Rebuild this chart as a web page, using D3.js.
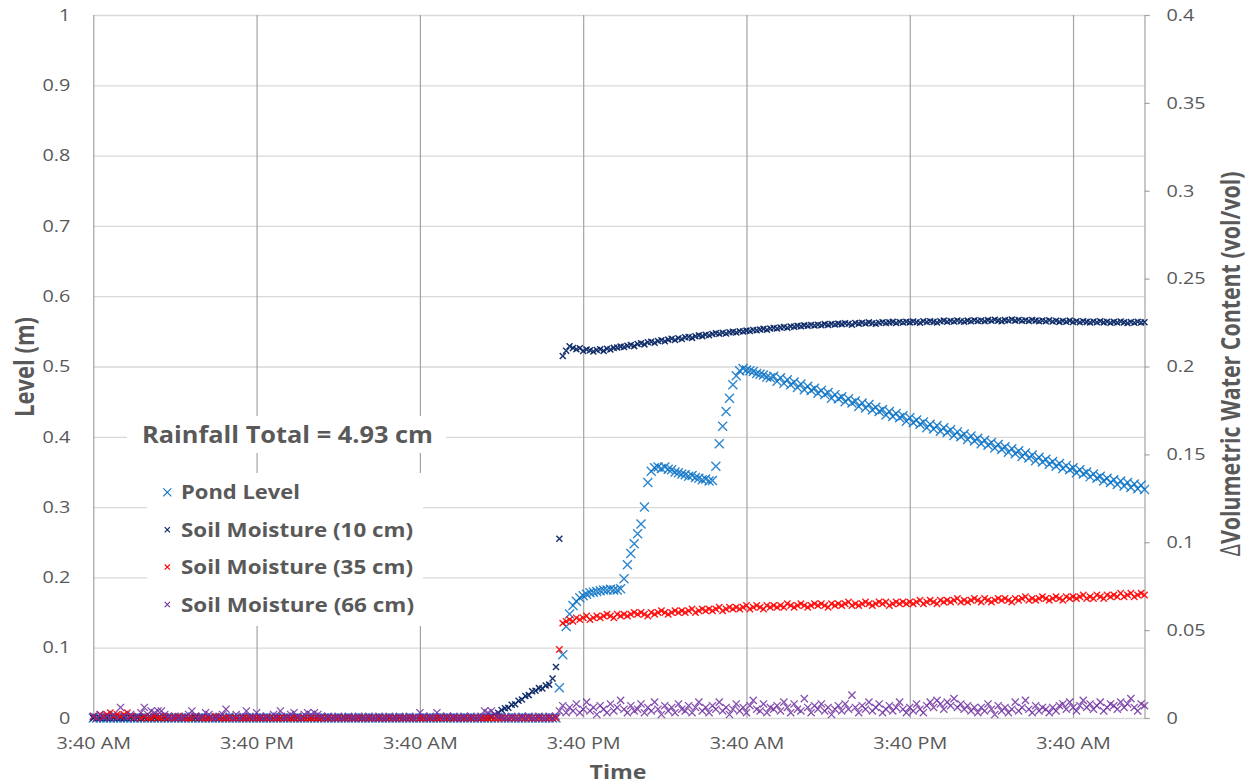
<!DOCTYPE html>
<html>
<head>
<meta charset="utf-8">
<title>Pond level and soil moisture</title>
<script src="https://cdn.jsdelivr.net/npm/d3@7"></script>
<style>
  html, body { margin: 0; padding: 0; background: #fff; }
  svg { display: block; font-family: "Open Sans", "DejaVu Sans", sans-serif; }
</style>
</head>
<body>
<svg id="chart" width="1250" height="784"></svg>
<script>
// Logger readings, one every 15 minutes, first reading at 3:40 AM.
const stepMinutes = 15;
const spanHours = 77.25;

// Pond level (m), left axis
const pondLevel = [
  0,0,0,0,0,0,0,0,0,0,0,0,0,0,0,0,0,0,0,0,
  0,0,0,0,0,0,0,0,0,0,0,0,0,0,0,0,0,0,0,0,
  0,0,0,0,0,0,0,0,0,0,0,0,0,0,0,0,0,0,0,0,
  0,0,0,0,0,0,0,0,0,0,0,0,0,0,0,0,0,0,0,0,
  0,0,0,0,0,0,0,0,0,0,0,0,0,0,0,0,0,0,0,0,
  0,0,0,0,0,0,0,0,0,0,0,0,0,0,0,0,0,0,0,0,
  0,0,0,0,0,0,0,0,0,0,0,0,0,0,0,0,0,0.043,0.090,0.130,
  0.148,0.160,0.166,0.171,0.174,0.176,0.178,0.179,0.180,0.181,0.182,0.182,0.183,0.182,0.182,0.184,0.198,0.218,0.234,0.248,
  0.262,0.276,0.300,0.335,0.351,0.356,0.357,0.355,0.357,0.354,0.353,0.350,0.349,0.347,0.346,0.344,0.345,0.342,0.341,0.339,
  0.340,0.337,0.338,0.358,0.390,0.415,0.436,0.455,0.474,0.487,0.494,0.497,0.495,0.494,0.493,0.490,0.489,0.488,0.485,0.484,
  0.486,0.479,0.484,0.476,0.481,0.474,0.478,0.470,0.475,0.467,0.472,0.466,0.469,0.462,0.466,0.460,0.463,0.455,0.460,0.454,
  0.457,0.450,0.454,0.448,0.451,0.443,0.448,0.441,0.446,0.438,0.442,0.436,0.439,0.431,0.436,0.429,0.433,0.427,0.430,0.422,
  0.427,0.420,0.424,0.418,0.421,0.413,0.418,0.411,0.416,0.408,0.413,0.406,0.410,0.402,0.407,0.400,0.404,0.396,0.401,0.394,
  0.398,0.390,0.395,0.388,0.392,0.384,0.389,0.382,0.386,0.378,0.383,0.376,0.380,0.372,0.377,0.370,0.374,0.366,0.371,0.364,
  0.368,0.361,0.365,0.358,0.362,0.355,0.359,0.353,0.356,0.349,0.353,0.347,0.350,0.343,0.347,0.341,0.344,0.337,0.341,0.335,
  0.339,0.332,0.337,0.330,0.335,0.328,0.333,0.326,0.331,0.325
];

// Change in volumetric water content (vol/vol), right axis
const soil10 = [
  0,0,0,0,0,0,0,0,0,0,0,0,0,0,0,0,0,0,0,0,
  0,0,0,0,0,0,0,0,0,0,0,0,0,0,0,0,0,0,0,0,
  0,0,0,0,0,0,0,0,0,0,0,0,0,0,0,0,0,0,0,0,
  0,0,0,0,0,0,0,0,0,0,0,0,0,0,0,0,0,0,0,0,
  0,0,0,0,0,0,0,0,0,0,0,0,0,0,0,0,0,0,0,0,
  0,0,0,0,0,0,0,0,0,0,0,0,0,0,0,0,0,0.001,0.002,0.003,
  0.0045,0.0055,0.0058,0.0075,0.0078,0.0098,0.0105,0.0125,0.013,0.0152,0.0155,0.017,0.0168,0.0185,0.019,0.0225,0.029,0.102,0.206,0.209,
  0.2115,0.2105,0.2098,0.2104,0.2088,0.2097,0.2092,0.2085,0.2094,0.2098,0.2089,0.2101,0.2097,0.2106,0.2108,0.2113,0.2111,0.2118,0.2122,0.2116,
  0.2128,0.2132,0.2126,0.2138,0.2141,0.2135,0.2145,0.2149,0.2144,0.2153,0.2158,0.2151,0.2161,0.2157,0.2166,0.2168,0.2163,0.2172,0.2177,0.2173,
  0.2181,0.2178,0.2185,0.2189,0.2186,0.2192,0.2188,0.2195,0.2197,0.2193,0.2201,0.2199,0.2204,0.2202,0.2208,0.2206,0.2211,0.2214,0.2209,0.2216,
  0.2219,0.2216,0.2222,0.2225,0.2221,0.2228,0.2226,0.2231,0.2229,0.2234,0.2232,0.2236,0.2233,0.2238,0.2235,0.2241,0.2237,0.2242,0.2239,0.2244,
  0.2241,0.2246,0.2243,0.2238,0.2247,0.2244,0.2249,0.2245,0.2251,0.2246,0.2243,0.2249,0.2252,0.2247,0.2251,0.2254,0.2248,0.2253,0.2250,0.2255,
  0.2251,0.2256,0.2252,0.2249,0.2257,0.2253,0.2258,0.2254,0.2250,0.2257,0.2261,0.2255,0.2259,0.2256,0.2262,0.2258,0.2255,0.2261,0.2258,0.2263,
  0.2259,0.2262,0.2257,0.2264,0.2260,0.2266,0.2261,0.2258,0.2264,0.2262,0.2267,0.2261,0.2265,0.2260,0.2263,0.2259,0.2265,0.2261,0.2257,0.2262,
  0.2258,0.2263,0.2256,0.2260,0.2254,0.2259,0.2255,0.2261,0.2253,0.2257,0.2252,0.2258,0.2254,0.2250,0.2256,0.2252,0.2257,0.2251,0.2255,0.2249,
  0.2254,0.2250,0.2256,0.2251,0.2247,0.2253,0.2249,0.2255,0.2250,0.2252
];

const soil35 = [
  0.001,0,0.002,0.001,0.002,0.003,0.001,0.002,0.001,0.002,0.003,0.001,0,0.001,0,0.001,0,0,0.001,0,
  0,0.001,0,0,0,0.001,0,0,0,0,0.001,0,0,0,0,0,0.001,0,0,0,
  0,0,0,0,0,0,0,0,0,0,0,0,0,0,0,0,0,0,0,0,
  0,0,0,0,0,0,0,0,0,0,0,0,0,0,0,0,0,0,0,0,
  0,0,0,0,0,0,0,0,0,0,0,0,0,0,0,0,0,0,0,0,
  0,0,0,0,0,0,0,0,0,0,0,0,0,0,0,0,0,0,0,0,
  0,0,0,0,0,0,0,0,0,0,0,0,0,0,0,0,0,0.039,0.054,0.055,
  0.056,0.055,0.057,0.056,0.057,0.058,0.056,0.057,0.058,0.057,0.058,0.059,0.058,0.057,0.059,0.058,0.059,0.058,0.059,0.060,
  0.059,0.060,0.059,0.058,0.060,0.059,0.060,0.061,0.060,0.059,0.060,0.061,0.060,0.061,0.060,0.061,0.062,0.060,0.061,0.062,
  0.061,0.062,0.061,0.062,0.063,0.061,0.062,0.063,0.062,0.063,0.062,0.063,0.064,0.062,0.063,0.064,0.063,0.062,0.064,0.063,
  0.064,0.063,0.064,0.063,0.065,0.064,0.063,0.064,0.065,0.064,0.063,0.064,0.065,0.064,0.065,0.064,0.063,0.065,0.064,0.065,
  0.064,0.065,0.066,0.064,0.065,0.064,0.065,0.066,0.065,0.064,0.065,0.066,0.065,0.066,0.064,0.065,0.066,0.065,0.066,0.065,
  0.066,0.065,0.066,0.067,0.065,0.066,0.067,0.066,0.065,0.067,0.066,0.067,0.066,0.067,0.068,0.066,0.067,0.066,0.067,0.068,
  0.067,0.066,0.068,0.067,0.066,0.067,0.068,0.067,0.068,0.067,0.066,0.068,0.067,0.068,0.069,0.067,0.068,0.067,0.068,0.069,
  0.068,0.067,0.068,0.069,0.068,0.067,0.069,0.068,0.069,0.068,0.069,0.070,0.068,0.069,0.068,0.070,0.069,0.068,0.070,0.069,
  0.070,0.069,0.071,0.069,0.070,0.071,0.069,0.070,0.071,0.070
];

const soil66 = [
  0.001,0,0.002,0,0.001,0,0.002,0,0.006,0.001,0,0.002,0,0.001,0.003,0.006,0.002,0.004,0.003,0.004,
  0.004,0.002,0.001,0,0.001,0,0,0.001,0.002,0.004,0.001,0,0.001,0.003,0.002,0,0,0.001,0.002,0.005,
  0.001,0,0.002,0,0.001,0.004,0.001,0,0.003,0.001,0,0.001,0,0.002,0.001,0.004,0,0.001,0.002,0.003,
  0.001,0,0.002,0.003,0.002,0.003,0.002,0.001,0,0.001,0,0,0.001,0,0,0.001,0,0,0.001,0,
  0,0.001,0,0,0.001,0,0,0.001,0,0,0.001,0,0,0.001,0,0,0.003,0.001,0,0.001,
  0,0.003,0.001,0,0.001,0,0.001,0,0,0.001,0,0.001,0,0,0.001,0.004,0.003,0.004,0.002,0.001,
  0.001,0,0,0.001,0,0,0.001,0,0.001,0,0,0.001,0,0,0.001,0,0.001,0.004,0.007,0.003,
  0.006,0.004,0.008,0.003,0.005,0.009,0.004,0.006,0.002,0.007,0.005,0.003,0.008,0.004,0.006,0.010,0.005,0.003,0.007,0.004,
  0.005,0.008,0.003,0.006,0.004,0.009,0.005,0.002,0.007,0.004,0.006,0.003,0.008,0.005,0.004,0.007,0.003,0.006,0.009,0.004,
  0.006,0.003,0.007,0.005,0.009,0.004,0.006,0.002,0.005,0.008,0.004,0.006,0.003,0.007,0.010,0.005,0.004,0.008,0.003,0.006,
  0.005,0.007,0.004,0.009,0.006,0.003,0.008,0.005,0.004,0.011,0.006,0.003,0.007,0.005,0.008,0.004,0.006,0.002,0.005,0.007,
  0.004,0.008,0.005,0.013,0.006,0.003,0.007,0.005,0.009,0.004,0.006,0.008,0.003,0.005,0.007,0.004,0.006,0.009,0.005,0.003,
  0.006,0.004,0.008,0.005,0.003,0.007,0.009,0.006,0.010,0.008,0.005,0.009,0.007,0.011,0.006,0.008,0.005,0.007,0.004,0.006,
  0.003,0.006,0.004,0.008,0.005,0.002,0.007,0.004,0.006,0.003,0.005,0.009,0.004,0.006,0.010,0.005,0.003,0.007,0.004,0.006,
  0.005,0.003,0.006,0.004,0.007,0.008,0.005,0.009,0.006,0.004,0.007,0.010,0.006,0.008,0.005,0.007,0.009,0.004,0.006,0.008,
  0.007,0.005,0.009,0.006,0.008,0.011,0.006,0.004,0.008,0.007
];

const seriesNames = ["Pond Level", "Soil Moisture (10 cm)", "Soil Moisture (35 cm)", "Soil Moisture (66 cm)"];
const leftTicks = [0, 0.1, 0.2, 0.3, 0.4, 0.5, 0.6, 0.7, 0.8, 0.9, 1];
const rightTicks = [0, 0.05, 0.1, 0.15, 0.2, 0.25, 0.3, 0.35, 0.4];
const timeTickHours = [0, 12, 24, 36, 48, 60, 72];
const rainfallNote = "Rainfall Total = 4.93 cm";

// ---------------------------------------------------------------------------
const svg = d3.select("#chart");
const W = 1250, H = 784;
const M = { left: 93.3, right: 1144.5, top: 15, bottom: 718 };
const HOUR = 3600e3;
const start = new Date(2016, 5, 1, 3, 40);
const TXT = "#595959";

svg.append("rect").attr("width", W).attr("height", H).attr("fill", "#fff");

const x = d3.scaleTime()
  .domain([start, new Date(+start + spanHours * HOUR)])
  .range([M.left, M.right]);
const yL = d3.scaleLinear().domain([0, 1]).range([M.bottom, M.top]);
const yR = d3.scaleLinear().domain([0, 0.4]).range([M.bottom, M.top]);

// Horizontally widen axis labels around their anchor point
function widen(sel, k) {
  sel.each(function () {
    const t = d3.select(this);
    const x0 = +t.attr("x") || 0;
    t.attr("x", x0 / k).attr("transform", `scale(${k},1)`);
  });
}

// Horizontal gridlines
svg.append("g")
  .attr("transform", `translate(${M.left},0)`)
  .call(d3.axisLeft(yL).tickValues(leftTicks).tickSize(-(M.right - M.left)).tickFormat(""))
  .call(g => g.select(".domain").remove())
  .call(g => g.selectAll("line").attr("stroke", "#d9d9d9").attr("stroke-width", 1.3));

// Vertical gridlines at each 12-hour mark
const timeTicks = timeTickHours.map(h => new Date(+start + h * HOUR));
svg.append("g")
  .attr("transform", `translate(0,${M.bottom})`)
  .call(d3.axisBottom(x).tickValues(timeTicks).tickSize(-(M.bottom - M.top)).tickFormat(""))
  .call(g => g.select(".domain").remove())
  .call(g => g.selectAll("line").attr("stroke", "#a3a3a3").attr("stroke-width", 1.2));

// Left axis labels
const gL = svg.append("g")
  .attr("transform", `translate(${M.left},0)`)
  .call(d3.axisLeft(yL).tickValues(leftTicks).tickSize(0).tickPadding(23).tickFormat(d => String(d)));
gL.select(".domain").remove();
gL.selectAll("text").attr("fill", TXT).attr("font-size", 16.5).attr("font-family", "Open Sans").call(widen, 1.2);

// Right axis
const gR = svg.append("g")
  .attr("transform", `translate(${M.right},0)`)
  .call(d3.axisRight(yR).tickValues(rightTicks).tickSize(5).tickSizeOuter(5).tickPadding(17).tickFormat(d => String(d)));
gR.select(".domain").attr("stroke", "#a3a3a3").attr("stroke-width", 1.2);
gR.selectAll("line").attr("stroke", "#a3a3a3").attr("stroke-width", 1.2);
gR.selectAll("text").attr("fill", TXT).attr("font-size", 16.5).attr("font-family", "Open Sans").call(widen, 1.2);

// Bottom time labels
const gB = svg.append("g")
  .attr("transform", `translate(0,${M.bottom})`)
  .call(d3.axisBottom(x).tickValues(timeTicks).tickSize(0).tickPadding(19).tickFormat(d3.timeFormat("%-I:%M %p")));
gB.select(".domain").remove();
gB.selectAll("text").attr("fill", TXT).attr("font-size", 16.5).attr("font-family", "Open Sans").call(widen, 1.2);

// Axis titles
svg.append("text")
  .attr("x", 618).attr("y", 779)
  .attr("text-anchor", "middle").attr("font-weight", 700).attr("font-size", 20).attr("fill", TXT)
  .attr("textLength", 57).attr("lengthAdjust", "spacingAndGlyphs")
  .text("Time");

svg.append("text")
  .attr("transform", "translate(34,367) scale(1.2,1) rotate(-90)")
  .attr("text-anchor", "middle").attr("font-weight", 700).attr("font-size", 22).attr("fill", TXT)
  .attr("textLength", 100).attr("lengthAdjust", "spacingAndGlyphs")
  .text("Level (m)");

const rTitle = svg.append("text")
  .attr("transform", "translate(1240,364) scale(1.25,1) rotate(-90)")
  .attr("text-anchor", "middle").attr("font-size", 22).attr("fill", TXT)
  .attr("textLength", 385).attr("lengthAdjust", "spacingAndGlyphs");
rTitle.append("tspan").attr("font-weight", 400).text("\u0394");
rTitle.append("tspan").attr("font-weight", 700).text("Volumetric Water Content (vol/vol)");

// Scatter series, X markers
const xMark = h => `M${-h},${-h}L${h},${h}M${-h},${h}L${h},${-h}`;
const series = [
  { name: seriesNames[0], values: pondLevel, y: yL, color: "#0a72c4", half: 4.5, width: 1.4, opacity: 0.85 },
  { name: seriesNames[1], values: soil10,    y: yR, color: "#002060", half: 3,   width: 1.5, opacity: 0.9 },
  { name: seriesNames[2], values: soil35,    y: yR, color: "#ff0000", half: 3.2, width: 1.4, opacity: 0.9 },
  { name: seriesNames[3], values: soil66,    y: yR, color: "#7030a0", half: 3.6, width: 1.3, opacity: 0.85 }
];
const timeOf = i => new Date(+start + i * stepMinutes * 60e3);

series.forEach(s => {
  svg.append("g")
    .attr("fill", "none").attr("stroke", s.color).attr("stroke-width", s.width).attr("stroke-opacity", s.opacity)
    .selectAll("path")
    .data(s.values)
    .join("path")
    .attr("transform", (v, i) => `translate(${x(timeOf(i))},${s.y(v)})`)
    .attr("d", xMark(s.half));
});

// Rainfall note
svg.append("rect").attr("x", 127).attr("y", 416).attr("width", 319).attr("height", 37).attr("fill", "#fff");
svg.append("text")
  .attr("x", 142).attr("y", 443)
  .attr("font-weight", 700).attr("font-size", 23).attr("fill", TXT)
  .attr("textLength", 291).attr("lengthAdjust", "spacingAndGlyphs")
  .text(rainfallNote);

// Legend
const legend = svg.append("g");
legend.append("rect").attr("x", 147).attr("y", 473).attr("width", 276).attr("height", 153).attr("fill", "#fff");
const legendWidths = [119, 232, 232, 233];
series.forEach((s, i) => {
  const base = 499.3 + i * 37.4;
  legend.append("path")
    .attr("transform", `translate(167.3,${base - 7})`)
    .attr("d", xMark(i === 0 ? 4 : 2.6))
    .attr("fill", "none").attr("stroke", s.color).attr("stroke-width", 1.1);
  legend.append("text")
    .attr("x", 181).attr("y", base)
    .attr("font-weight", 700).attr("font-size", 20).attr("fill", TXT)
    .attr("textLength", legendWidths[i]).attr("lengthAdjust", "spacingAndGlyphs")
    .text(s.name);
});
</script>
</body>
</html>
